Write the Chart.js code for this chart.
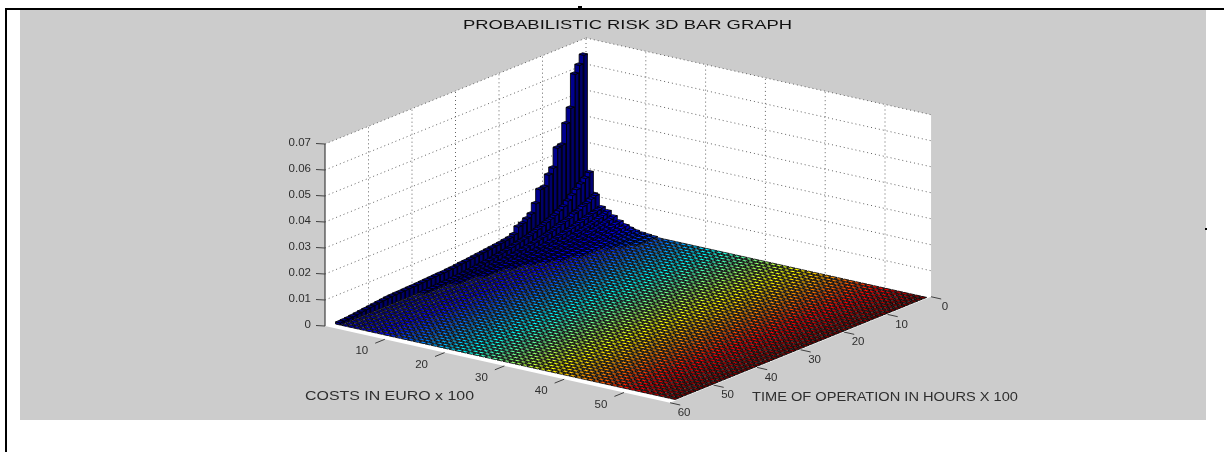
<!DOCTYPE html>
<html>
<head>
<meta charset="utf-8">
<title>Probabilistic risk 3D bar graph</title>
<script src="https://cdn.jsdelivr.net/npm/chart.js@4"></script>
<style>
    html, body { margin: 0; padding: 0; background: #fff; overflow: hidden; }
    #page { position: relative; width: 1224px; height: 452px; }
    .panel { position: absolute; left: 20px; top: 9px; width: 1186px; height: 411px; background: #cccccc; }
    .rule { position: absolute; background: #000; }
    #wrap { position: absolute; left: 0; top: 0; width: 1224px; height: 452px; }
</style>
</head>
<body>
<div id="page">
    <div class="panel"></div>
    <div class="rule" style="left:5px;top:8px;width:1219px;height:2px"></div>
    <div class="rule" style="left:5px;top:8px;width:2px;height:444px"></div>
    <div class="rule" style="left:578px;top:6px;width:4px;height:2px"></div>
    <div class="rule" style="left:1205px;top:228px;width:2px;height:2px"></div>
    <div id="wrap"><canvas id="riskChart" width="1224" height="452"></canvas></div>
</div>
<script>
const chartTitle = 'PROBABILISTIC RISK 3D BAR GRAPH';
const costAxisTitle = 'COSTS IN EURO x 100';
const timeAxisTitle = 'TIME OF OPERATION IN HOURS X 100';

const costTicks = [10, 20, 30, 40, 50];
const timeTicks = [0, 10, 20, 30, 40, 50, 60];
const riskTicks = [0, 0.01, 0.02, 0.03, 0.04, 0.05, 0.06, 0.07];
const riskTickLabels = ['0', '0.01', '0.02', '0.03', '0.04', '0.05', '0.06', '0.07'];

const costs = [1, 2, 3, 4, 5, 6, 7, 8, 9, 10, 11, 12, 13, 14, 15, 16, 17, 18, 19, 20, 21, 22, 23, 24, 25, 26, 27, 28, 29,
    30, 31, 32, 33, 34, 35, 36, 37, 38, 39, 40, 41, 42, 43, 44, 45, 46, 47, 48, 49, 50, 51, 52, 53, 54, 55, 56, 57];
const times = [1, 2, 3, 4, 5, 6, 7, 8, 9, 10, 11, 12, 13, 14, 15, 16, 17, 18, 19, 20, 21, 22, 23, 24, 25, 26, 27, 28, 29,
    30, 31, 32, 33, 34, 35, 36, 37, 38, 39, 40, 41, 42, 43, 44, 45, 46, 47, 48, 49, 50, 51, 52, 53, 54, 55, 56, 57, 58];

// one row per cost, starting at time 1. Missing values are flat bars
const riskCost1 = [.010, .0657, .0625, .0597, .0473, .042, .0345, .034, .027, .025, .021, .0207, .016, .0127, .0115, .0104, .0098, .0075, .0068, .0065,
    .0062, .006, .0058, .0056, .0054, .0052, .005, .0048, .0046, .0045, .0043, .0041, .004, .0038, .0038, .0037, .0036, .0035, .0034, .0033,
    .0032, .0032, .0031, .003, .003, .0029, .0028, .0026, .0024, .0022, .002, .0018, .0016, .0014, .0012, .001, .0009, .0008];
const riskCost2 = [.012, .021, .0195, .018, .0165, .015, .0135, .012, .011, .01, .0092, .0085, .0078, .0072, .0066, .006, .0056, .0052, .0048, .0044,
    .004, .0037, .0034, .0031, .0028, .0026, .0024, .0022, .002, .0018, .0016, .0015, .0014, .0013, .0012, .0011, .001, .0009, .0008, .0007];
const riskCost3 = [.006, .0127, .012, .011, .0105, .0095, .009, .008, .0075, .007, .0064, .0058, .0053, .0048, .0044, .004, .0037, .0034, .0031, .0028,
    .0025, .0023, .0021, .0019, .0017, .0015, .0014, .0013, .0012, .0011, .001, .0009, .0008, .0007];
const riskCost4 = [.004, .0085, .008, .0076, .0072, .0067, .0062, .0056, .0052, .0047, .0043, .0039, .0035, .0032, .0029, .0026, .0024, .0022, .002, .0018,
    .0016, .0014, .0013, .0012, .0011, .001, .0009, .0008, .0007];
const riskCost5 = [.0035, .0075, .0068, .0062, .0056, .0051, .0046, .0042, .0038, .0035, .0031, .0028, .0026, .0023, .0021, .0019, .0017, .0015, .0014, .0012,
    .0011, .001, .0009, .0008];
const riskCost6 = [.003, .006, .0054, .005, .0045, .0041, .0037, .0033, .003, .0027, .0024, .0022, .002, .0018, .0016, .0014, .0012, .0011, .001, .0009, .0008];
const riskCost7 = [.0024, .0046, .0042, .0038, .0035, .0032, .0029, .0026, .0024, .0021, .0019, .0017, .0015, .0014, .0012, .0011, .001, .0009, .0008];
const riskCost8 = [.0018, .0035, .0032, .003, .0027, .0025, .0023, .0021, .0019, .0017, .0015, .0013, .0012, .0011, .001, .0009, .0008];
const riskCost9 = [.0012, .0024, .0022, .002, .0019, .0017, .0016, .0014, .0013, .0012, .0011, .001, .0009, .0008];
const riskCost10 = [.0008, .0015, .0014, .0013, .0012, .0011, .001, .0009, .0008];
const riskCost11 = [.0006, .001, .0009, .0009, .0008, .0008, .0007];
const riskCost12 = [.0004, .0008, .0007, .0006, .0005];
const riskRows = [riskCost1, riskCost2, riskCost3, riskCost4, riskCost5, riskCost6, riskCost7, riskCost8, riskCost9, riskCost10, riskCost11, riskCost12];

// axis limits
const costMax = 57.7;
const timeMax = 60;
const riskMax = 0.07;

const barHalf = 0.4;

// projection of the 3D box on the page
function project(c, t, z) {
    return {
        x: 586 + 5.98 * c - 4.35 * t,
        y: 220 + 1.33 * c + 1.767 * t - 2600 * z,
    };
}

// ============================================================
// Colours (jet by cost)
// ============================================================
const jetStops = [
    [0, 0, 0, 143],
    [0.125, 0, 0, 255],
    [0.375, 0, 255, 255],
    [0.625, 255, 255, 0],
    [0.875, 255, 0, 0],
    [1, 128, 0, 0],
];

function jet(f) {
    let i = 0;
    while (i < jetStops.length - 2 && f > jetStops[i + 1][0]) i++;
    const a = jetStops[i];
    const b = jetStops[i + 1];
    const k = (f - a[0]) / (b[0] - a[0]);
    return [1, 2, 3].map((n) => a[n] + (b[n] - a[n]) * k);
}

function shade(rgb, k) {
    return 'rgb(' + rgb.map((v) => Math.round(v * k)).join(',') + ')';
}

// ============================================================
// Datasets
// ============================================================
function lineSet(a, b, color, dash, width) {
    return {
        type: 'scatter',
        showLine: true,
        data: [a, b],
        borderColor: color,
        borderWidth: width,
        borderDash: dash,
        pointRadius: 0,
    };
}

const gridColor = '#3c3c3c';
const gridDash = [1, 3];
const axisColor = '#404040';
const datasets = [];

riskTicks.slice(1).forEach((z) => {
    datasets.push(lineSet(project(0, timeMax, z), project(0, 0, z), gridColor, gridDash, 0.8));
    datasets.push(lineSet(project(0, 0, z), project(costMax, 0, z), gridColor, gridDash, 0.8));
});
timeTicks.slice(0, -1).forEach((t) => {
    datasets.push(lineSet(project(0, t, 0), project(0, t, riskMax), gridColor, gridDash, 0.8));
});
costTicks.forEach((c) => {
    datasets.push(lineSet(project(c, 0, 0), project(c, 0, riskMax), gridColor, gridDash, 0.8));
});

// axis and tick marks
datasets.push(lineSet(project(0, timeMax, 0), project(0, timeMax, riskMax), axisColor, [], 1.2));
riskTicks.forEach((z) => {
    const p = project(0, timeMax, z);
    datasets.push(lineSet(p, { x: p.x - 9, y: p.y - 0.5 }, axisColor, [], 1));
});
costTicks.forEach((c) => {
    const p = project(c, timeMax, 0);
    datasets.push(lineSet(p, project(c, timeMax + 2.2, 0), axisColor, [], 1));
});
timeTicks.forEach((t) => {
    const p = project(costMax, t, 0);
    datasets.push(lineSet(p, project(costMax + 1.7, t, 0), axisColor, [], 1));
});

// one dataset per cost, bars stay invisible as points and get drawn by the plugin below
const firstBarSet = datasets.length;
costs.forEach((c, i) => {
    const row = riskRows[i] || [];
    datasets.push({
        type: 'scatter',
        label: 'cost ' + c,
        pointRadius: 0,
        data: times.map((t, j) => {
            const z = row[j] || 0;
            const p = project(c, t, 0);
            return { x: p.x, y: p.y, cost: c, time: t, risk: z };
        }),
    });
});

// ============================================================
// Plugins
// ============================================================
function poly(ctx, chart, pts) {
    const sx = chart.scales.x;
    const sy = chart.scales.y;
    ctx.beginPath();
    pts.forEach((p, i) => {
        const px = sx.getPixelForValue(p.x);
        const py = sy.getPixelForValue(p.y);
        if (i === 0) ctx.moveTo(px, py);
        else ctx.lineTo(px, py);
    });
    ctx.closePath();
}

const wallsPlugin = {
    id: 'walls',
    beforeDatasetsDraw(chart) {
        const ctx = chart.ctx;
        ctx.save();
        ctx.fillStyle = '#fff';
        poly(ctx, chart, [
            project(0, timeMax, 0),
            project(0, timeMax, riskMax),
            project(0, 0, riskMax),
            project(costMax, 0, riskMax),
            project(costMax, 0, 0),
            project(costMax, timeMax, 0),
        ]);
        ctx.fill();
        ctx.restore();
    },
};

const barsPlugin = {
    id: 'bars3d',
    afterDatasetsDraw(chart) {
        const ctx = chart.ctx;
        ctx.save();
        ctx.lineJoin = 'miter';
        ctx.lineWidth = 0.85;
        ctx.strokeStyle = '#000';

        function face(pts, color) {
            poly(ctx, chart, pts);
            ctx.fillStyle = color;
            ctx.fill();
            ctx.stroke();
        }

        chart.data.datasets.slice(firstBarSet).forEach((set) => {
            set.data.forEach((b) => {
                const rgb = jet((b.cost - 1) / (costs.length - 1));
                const c0 = b.cost - barHalf;
                const c1 = b.cost + barHalf;
                const t0 = b.time - barHalf;
                const t1 = b.time + barHalf;
                if (b.risk > 0) {
                    face([project(c0, t1, 0), project(c1, t1, 0), project(c1, t1, b.risk), project(c0, t1, b.risk)], shade(rgb, 1));
                    face([project(c1, t1, 0), project(c1, t0, 0), project(c1, t0, b.risk), project(c1, t1, b.risk)], shade(rgb, 0.75));
                }
                face([project(c0, t0, b.risk), project(c1, t0, b.risk), project(c1, t1, b.risk), project(c0, t1, b.risk)], shade(rgb, 1));
            });
        });
        ctx.restore();
    },
};

const labelsPlugin = {
    id: 'axisLabels',
    afterDraw(chart) {
        const ctx = chart.ctx;
        const sx = chart.scales.x;
        const sy = chart.scales.y;

        function put(text, p, dx, dy, align) {
            ctx.textAlign = align;
            ctx.fillText(text, sx.getPixelForValue(p.x) + dx, sy.getPixelForValue(p.y) + dy);
        }

        // the picture's lettering is stretched sideways, so fit each string to its width
        function stretched(text, left, y, width) {
            ctx.save();
            ctx.textAlign = 'left';
            ctx.translate(left, y);
            ctx.scale(width / ctx.measureText(text).width, 1);
            ctx.fillText(text, 0, 0);
            ctx.restore();
        }

        ctx.save();
        ctx.fillStyle = '#2e2e2e';
        ctx.textBaseline = 'middle';
        ctx.font = '11.5px "Liberation Sans"';
        riskTicks.forEach((z, i) => put(riskTickLabels[i], project(0, timeMax, z), -14, -1, 'right'));
        costTicks.forEach((c) => put(String(c), project(c, timeMax, 0), -23, 12, 'center'));
        timeTicks.forEach((t) => put(String(t), project(costMax, t, 0), 14, 10, 'center'));
        ctx.font = '13px "Liberation Sans"';
        stretched(costAxisTitle, 305, 396, 169);
        stretched(timeAxisTitle, 752, 397, 266);
        ctx.fillStyle = '#111';
        ctx.font = '13.5px "Liberation Sans"';
        stretched(chartTitle, 463, 25, 329);
        ctx.restore();
    },
};

// ============================================================
// Chart
// ============================================================
new Chart(document.getElementById('riskChart'), {
    type: 'scatter',
    data: { datasets },
    plugins: [wallsPlugin, barsPlugin, labelsPlugin],
    options: {
        responsive: false,
        animation: false,
        events: [],
        layout: { padding: 0 },
        plugins: {
            legend: { display: false },
            tooltip: { enabled: false },
        },
        scales: {
            x: { display: false, min: 0, max: 1224 },
            y: { display: false, reverse: true, min: 0, max: 452 },
        },
    },
});
</script>
</body>
</html>
